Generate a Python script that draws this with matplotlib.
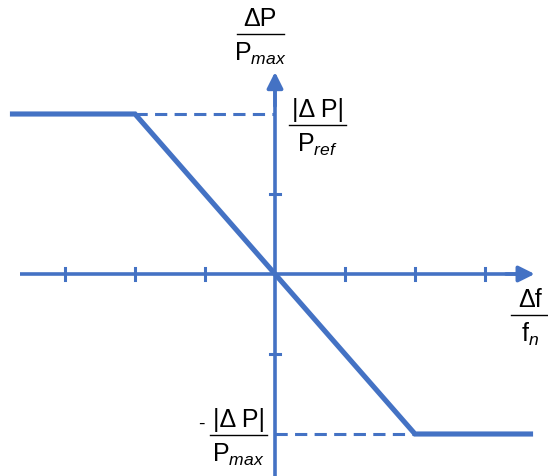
import matplotlib.pyplot as plt

plt.rcParams['font.family'] = ['Liberation Sans', 'DejaVu Sans']
plt.rcParams['mathtext.fontset'] = 'custom'
plt.rcParams['mathtext.rm'] = 'Liberation Sans'
plt.rcParams['mathtext.it'] = 'Liberation Sans:italic'

# droop characteristic: normalised power vs normalised frequency deviation
curve_x = [-3.75, -2, 0, 2, 3.65]
curve_y = [2, 2, 0, -2, -2]
limit_up = 2
limit_down = -2
knee_x = [-2, 2]
xticks = [-3, -2, -1, 1, 2, 3]
yticks = [-1, 1]

blue = '#4472C4'

fig = plt.figure(figsize=(5.48, 4.76), dpi=100)
ax = fig.add_axes([0, 0, 1, 1])
ax.set_xlim(-275 / 70, 273 / 70)
ax.set_ylim(-202 / 80, 274 / 80)
ax.axis('off')

# axes with arrow heads
ax.plot([-3.64, 3.5], [0, 0], color=blue, lw=2.6, solid_capstyle='butt')
ax.annotate('', xy=(3.71, 0), xytext=(3.3, 0),
            arrowprops=dict(arrowstyle='-|>', color=blue, lw=2.6,
                            mutation_scale=24, shrinkA=0, shrinkB=0))
ax.plot([0, 0], [-2.6, 2.3], color=blue, lw=2.6, solid_capstyle='butt')
ax.annotate('', xy=(0, 2.525), xytext=(0, 2.1),
            arrowprops=dict(arrowstyle='-|>', color=blue, lw=2.6,
                            mutation_scale=24, shrinkA=0, shrinkB=0))

for t in xticks:
    ax.plot([t, t], [-0.08, 0.08], color=blue, lw=2.2)
for t in yticks:
    ax.plot([-0.075, 0.075], [t, t], color=blue, lw=2.2)

# dashed limit lines
ax.plot([knee_x[0], 0], [limit_up, limit_up], color=blue, lw=2.2,
        dashes=(4, 2.4))
ax.plot([0, knee_x[1]], [limit_down, limit_down], color=blue, lw=2.2,
        dashes=(4, 2.4))

ax.plot(curve_x, curve_y, color=blue, lw=3.7, solid_joinstyle='miter')


def frac(x, y, num, den, half, fs=18):
    ax.text(x, y + 0.19, num, ha='center', va='center', fontsize=fs)
    ax.plot([x - half, x + half], [y, y], color='black', lw=1.0)
    ax.text(x, y - 0.25, den, ha='center', va='center', fontsize=fs)


frac(-0.21, 3.0, 'ΔP', r'P$_{\mathit{max}}$', 0.34)
frac(0.61, 1.86, '|Δ P|', r'P$_{\mathit{ref}}$', 0.41)
frac(-0.52, -2.01, '|Δ P|', r'P$_{\mathit{max}}$', 0.41)
ax.text(-1.05, -1.88, '-', ha='center', va='center', fontsize=14)
frac(3.64, -0.51, 'Δf', r'f$_{\mathit{n}}$', 0.27)

fig.savefig('out.png', dpi=100)
